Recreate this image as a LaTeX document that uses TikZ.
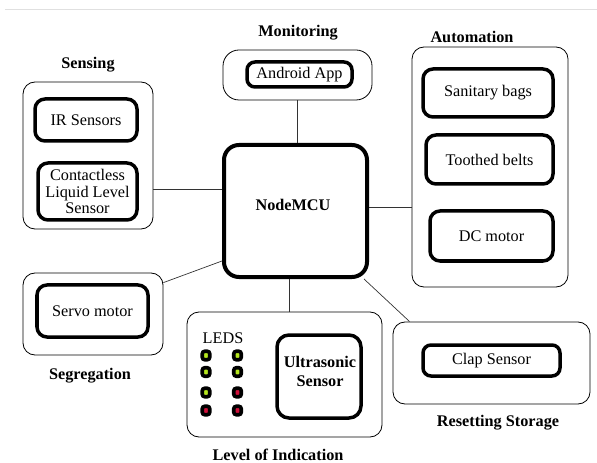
\documentclass[tikz,border=0pt]{standalone}
\usepackage{fontspec}
\setmainfont{Liberation Serif}
\usetikzlibrary{calc}
\definecolor{ledg}{HTML}{B5E61D}
\definecolor{ledr}{HTML}{D0103A}
\tikzset{
  outerbox/.style={draw, line width=0.8bp, rounded corners=12bp, inner sep=0pt},
  innerbox/.style={draw, line width=3.5bp, rounded corners=10bp, inner sep=0pt, align=center},
  mcubox/.style={draw, line width=4bp, rounded corners=15bp, inner sep=0pt},
  title/.style={font=\fontsize{16.3}{18}\selectfont\bfseries, inner sep=0pt, align=center},
  lbl/.style={font=\fontsize{16.3}{16.8}\selectfont},
  led/.style={draw=black, line width=3.6bp, rounded corners=2.5bp, minimum width=7.5bp, minimum height=8.5bp, inner sep=0pt},
  conn/.style={line width=0.7bp, draw=black!80}
}
\begin{document}
\begin{tikzpicture}[x=1bp, y=-1bp]
\useasboundingbox (0,0) rectangle (597,463);
\draw[black!12, line width=1bp] (5,10) -- (597,10);

% Sensing
\node[title] (tsens) at (88,65) {Sensing};
\node[outerbox, minimum width=130bp, minimum height=147bp] (sens) at (88,155.5) {};
\node[innerbox, lbl, minimum width=102bp, minimum height=42bp] (ir) at (86,120) {IR Sensors};
\node[innerbox, lbl, minimum width=99bp, minimum height=57bp] (cll) at (87.5,191.5) {Contactless\\Liquid Level\\Sensor};

% Monitoring
\node[title] (tmon) at (298,33) {Monitoring};
\node[outerbox, rounded corners=16bp, minimum width=149bp, minimum height=50bp] (mon) at (297.5,75) {};
\node[innerbox, lbl, rounded corners=8bp, minimum width=105bp, minimum height=25bp] (app) at (299.5,74.5) {Android App};

% NodeMCU
\node[mcubox, minimum width=143bp, minimum height=132bp] (mcu) at (295.5,211) {};
\node[title] (tmcu) at (293,205) {NodeMCU};

% Automation
\node[title] (tauto) at (472,37) {Automation};
\node[outerbox, minimum width=156bp, minimum height=240bp] (auto) at (490,167) {};
\node[innerbox, lbl, minimum width=130bp, minimum height=48bp] (bags) at (488,93) {Sanitary bags};
\node[innerbox, lbl, minimum width=127bp, minimum height=49bp] (belts) at (489.5,159.5) {Toothed belts};
\node[innerbox, lbl, minimum width=123bp, minimum height=50bp] (dc) at (491.5,236) {DC motor};

% Segregation
\node[outerbox, minimum width=140bp, minimum height=82bp] (seg) at (93,314) {};
\node[innerbox, lbl, minimum width=111bp, minimum height=52bp] (servo) at (92.5,311) {Servo motor};
\node[title] (tseg) at (90,376) {Segregation};

% Level of Indication
\node[outerbox, minimum width=195bp, minimum height=125bp] (lvl) at (284.5,374.5) {};
\node[title] (tlvl) at (278,455) {Level of Indication};
\node[lbl, inner sep=0pt] (leds) at (223,338) {LEDS};
\node[led, fill=ledg] (l11) at (206,355.5) {};
\node[led, fill=ledg] (l12) at (206,372) {};
\node[led, fill=ledg] (l13) at (206,392.5) {};
\node[led, fill=ledr] (l14) at (206,410.5) {};
\node[led, fill=ledg] (l21) at (237.5,355.5) {};
\node[led, fill=ledg] (l22) at (237.5,372) {};
\node[led, fill=ledr] (l23) at (237.5,392.5) {};
\node[led, fill=ledr] (l24) at (237.5,410.5) {};
\node[innerbox, rounded corners=12bp, minimum width=84bp, minimum height=83bp] (us) at (319,376.5) {};
\node[title, font=\fontsize{16.3}{19}\selectfont\bfseries] (tus) at (320,371) {Ultrasonic\\Sensor};

% Resetting Storage
\node[outerbox, minimum width=197bp, minimum height=82bp] (res) at (491.5,363) {};
\node[innerbox, lbl, rounded corners=8bp, minimum width=137bp, minimum height=31bp] (clap) at (491.5,360.5) {Clap Sensor};
\node[title] (tres) at (498,423) {Resetting Storage};

% Connectors
\draw[conn] ($(sens.east)+(0,33.5)$) coordinate (a1) -- (a1 -| mcu.west);
\draw[conn] (mon.south) -- (mon.south |- mcu.north);
\draw[conn] ($(auto.west)+(0,40)$) coordinate (a2) -- (a2 -| mcu.east);
\draw[conn] ($(seg.north east)+(0,10)$) -- ($(mcu.west)+(0,50)$);
\draw[conn] ($(mcu.south)+(-6.5,0)$) coordinate (a3) -- (a3 |- lvl.north);
\draw[conn] ($(mcu.south east)+(-5,0)$) -- ($(res.north west)+(17,0)$);
\end{tikzpicture}
\end{document}
